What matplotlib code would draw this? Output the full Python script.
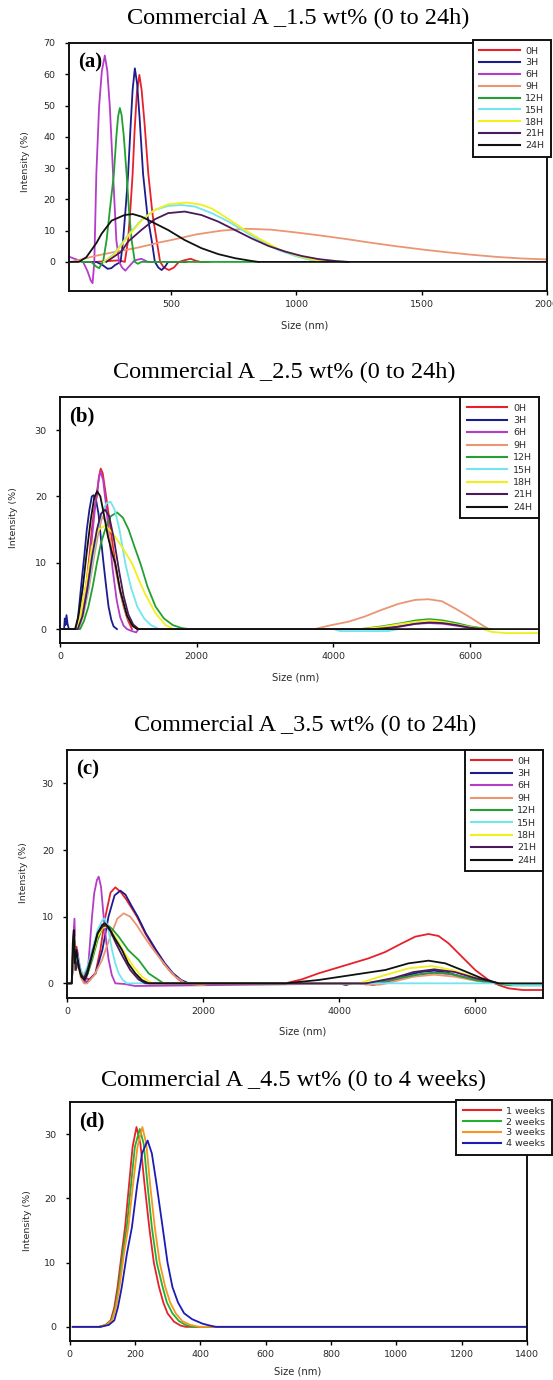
import matplotlib
matplotlib.use("Agg")
import matplotlib.pyplot as plt

# ---------------- panel (a): 1.5 wt% ----------------
a_0h_x = [150, 200, 250, 290, 314, 327, 337, 345, 353, 362, 372, 381, 392, 408, 425, 441, 455, 470, 490, 510, 530, 555, 577, 600, 617, 650]
a_0h_y = [0, 0, 0.3, 0.5, 0, 7, 18, 28, 42, 54, 59.8, 55, 45, 28, 15, 7, 0, -1.8, -2.6, -1.8, 0, 0.6, 1.0, 0.3, 0, 0]
a_3h_x = [150, 200, 225, 245, 260, 275, 297, 307, 318, 327, 336, 345, 354, 363, 373, 387, 404, 421, 434, 448, 461, 475, 487, 560]
a_3h_y = [0, 0, -1.0, -2.2, -2.0, -1.0, 0, 7, 18, 28, 42, 55, 61.9, 57, 46, 28, 15, 7, 0, -1.8, -2.6, -1.5, 0, 0]
a_6h_x = [90, 120, 147, 165, 178, 185, 192, 200, 211, 222, 234, 244, 254, 267, 280, 291, 303, 316, 330, 353, 380, 406, 450]
a_6h_y = [1.7, 0.8, 0, -3, -6, -6.8, 0, 28, 49.6, 61, 66, 61, 49.6, 28, 7, 0, -1.8, -2.8, -1.5, 0.5, 1.0, 0, 0]
a_9h_x = [100, 150, 200, 250, 300, 350, 400, 450, 500, 600, 700, 800, 900, 1000, 1100, 1200, 1300, 1400, 1500, 1600, 1700, 1800, 1900, 2000]
a_9h_y = [0, 1.0, 2.0, 2.8, 3.6, 4.3, 5.2, 6.2, 7.0, 8.8, 10.0, 10.6, 10.3, 9.4, 8.4, 7.3, 6.1, 5.0, 4.0, 3.1, 2.3, 1.6, 1.1, 0.8]
a_12h_x = [140, 180, 200, 211, 227, 241, 256, 270, 280, 287, 294, 301, 310, 321, 331, 341, 354, 366, 380, 850]
a_12h_y = [0, 0, -1.5, -2, 0, 7, 18, 28, 40, 46.5, 49.2, 47, 40, 28, 16, 7, 0, -0.6, 0, 0]
a_15h_x = [230, 270, 327, 380, 433, 487, 540, 594, 661, 728, 794, 861, 928, 995, 1061, 1115]
a_15h_y = [0, 2.5, 8.6, 13.4, 16.6, 17.9, 18.2, 17.7, 15.6, 12.9, 9.7, 6.5, 3.8, 1.9, 0.5, 0]
a_18h_x = [230, 270, 327, 380, 433, 487, 560, 620, 661, 728, 794, 861, 928, 995, 1061, 1128]
a_18h_y = [0, 2.2, 8.2, 13.2, 16.6, 18.4, 19.0, 18.3, 17.1, 13.7, 10.2, 7.0, 4.1, 2.2, 0.8, 0]
a_21h_x = [240, 300, 327, 380, 433, 487, 553, 620, 687, 754, 821, 888, 955, 1021, 1088, 1155, 1209]
a_21h_y = [0, 3.3, 6.5, 10.2, 13.6, 15.6, 16.1, 15.0, 12.9, 10.2, 7.5, 5.1, 3.3, 1.9, 0.9, 0.3, 0]
a_24h_x = [90, 130, 160, 200, 221, 261, 313, 346, 380, 420, 487, 553, 620, 687, 754, 821, 848, 2000]
a_24h_y = [0, 0, 1.5, 6.0, 9.0, 13.2, 15.0, 15.3, 14.5, 12.9, 10.2, 7.0, 4.4, 2.5, 1.2, 0.3, 0, 0]

# ---------------- panel (b): 2.5 wt% ----------------
b_0h_x = [0, 270, 330, 392, 430, 465, 500, 539, 570, 596, 625, 660, 710, 760, 808, 870, 931, 990, 1053]
b_0h_y = [0, 0, 3.4, 7.4, 11, 15, 18, 20, 23, 24.2, 23.5, 21, 17.4, 13.5, 9.9, 6.2, 3.4, 1.4, 0]
b_3h_x = [0, 60, 70, 80, 95, 110, 130, 245, 280, 318, 355, 392, 430, 465, 492, 530, 563, 600, 637, 675, 710, 750, 784, 833]
b_3h_y = [0, 0, 1.6, 0.6, 2.1, 0.8, 0, 0, 3.4, 7.4, 11, 15, 18, 20, 20.2, 19.3, 17.4, 13.5, 9.9, 6.4, 3.4, 1.4, 0.4, 0]
b_6h_x = [0, 250, 300, 360, 420, 480, 530, 570, 590, 630, 670, 720, 770, 830, 880, 930, 980, 1050, 1114, 1150, 4700, 5000, 5200, 5400, 5600, 5800, 6000, 6200]
b_6h_y = [0, 0, 1, 4, 9, 15, 20, 22.8, 23.8, 22.5, 19, 14, 9, 4.3, 1.8, 0.5, 0, -0.3, -0.5, 0, 0, 0.4, 0.8, 0.9, 0.8, 0.5, 0.2, 0]
b_9h_x = [0, 270, 340, 420, 500, 570, 620, 680, 750, 830, 910, 990, 1070, 1150, 3724, 3969, 4214, 4459, 4704, 4949, 5194, 5390, 5586, 5782, 5978, 6174, 6272]
b_9h_y = [0, 0, 2, 6, 11, 15, 17, 16, 12.5, 8, 4.2, 1.6, 0.4, 0, 0, 0.6, 1.1, 1.9, 2.9, 3.8, 4.4, 4.5, 4.2, 3.1, 1.9, 0.6, 0]
b_12h_x = [0, 294, 350, 416, 480, 539, 600, 661, 740, 833, 920, 1004, 1090, 1176, 1280, 1397, 1520, 1650, 1780, 1886, 4400, 4700, 5000, 5200, 5400, 5600, 5800, 6000, 6200, 6300]
b_12h_y = [0, 0, 1.2, 3.4, 6.5, 9.9, 13, 15, 17, 17.6, 16.8, 15, 12.4, 9.9, 6.4, 3.4, 1.6, 0.6, 0.15, 0, 0, 0.4, 0.9, 1.3, 1.5, 1.3, 0.9, 0.4, 0.1, 0]
b_15h_x = [0, 260, 330, 400, 470, 540, 610, 680, 740, 800, 870, 955, 1040, 1130, 1230, 1330, 1450, 4000, 4100, 4800, 4950]
b_15h_y = [0, 0, 2, 5.5, 10, 14.5, 17.5, 19, 19.2, 18, 15, 9.9, 6.2, 3.4, 1.6, 0.6, 0, 0, -0.3, -0.3, 0]
b_18h_x = [0, 250, 300, 392, 465, 563, 661, 760, 906, 1054, 1150, 1250, 1397, 1544, 1660, 4400, 4700, 5000, 5200, 5400, 5600, 5800, 6000, 6200, 6300, 6500, 7000]
b_18h_y = [0, 0, 2, 7.4, 12.4, 15, 15.6, 14.6, 12.4, 9.9, 7.5, 5.2, 2.4, 0.6, 0, 0, 0.3, 0.8, 1.1, 1.3, 1.1, 0.7, 0.3, 0, -0.4, -0.6, -0.6]
b_21h_x = [0, 260, 330, 400, 470, 540, 600, 660, 720, 790, 860, 930, 1000, 1070, 1150, 4600, 4900, 5200, 5400, 5600, 5800, 6000, 6200]
b_21h_y = [0, 0, 2, 6, 11, 15, 17.4, 18, 17, 13.5, 9, 5, 2.2, 0.7, 0, 0, 0.3, 0.8, 1.0, 0.9, 0.6, 0.2, 0]
b_24h_x = [0, 220, 270, 330, 390, 450, 500, 544, 590, 640, 700, 760, 808, 880, 980, 1060, 1127, 7000]
b_24h_y = [0, 0, 2, 6, 11.5, 16.5, 19.8, 20.8, 20, 17.4, 14, 11.5, 9.9, 5.8, 2.0, 0.5, 0, 0]

# ---------------- panel (c): 3.5 wt% ----------------
c_0h_x = [0, 70, 90, 105, 120, 140, 170, 210, 260, 330, 417, 490, 564, 640, 711, 790, 870, 950, 1029, 1150, 1299, 1420, 1544, 1650, 1740,
          3210, 3455, 3700, 3945, 4190, 4435, 4680, 4925, 5121, 5317, 5464, 5611, 5807, 6003, 6199, 6346, 6493, 6700, 7000]
c_0h_y = [0, 0, 5, 8.5, 3, 5.5, 3, 1.5, 0.8, 0.6, 1.5, 5, 10, 13.6, 14.4, 13.7, 12.6, 11.3, 10, 7.5, 5, 3, 1.5, 0.5, 0,
          0, 0.6, 1.5, 2.25, 3.0, 3.75, 4.7, 6.0, 7.0, 7.4, 7.1, 6.0, 4.0, 2.0, 0.5, -0.25, -0.75, -1.0, -1.0]
c_3h_x = [0, 70, 90, 105, 120, 150, 190, 230, 270, 330, 420, 520, 610, 700, 785, 860, 950, 1040, 1160, 1310, 1440, 1560, 1680, 1790,
          4000, 4100, 4200, 4400, 4500, 4600, 4800, 5000, 5200, 5400, 5600, 5800, 6000, 6200, 6346]
c_3h_y = [0, 0, 4, 6, 2, 4, 2, 0.5, 0, 0.5, 1.5, 5, 10, 13.2, 13.9, 13.3, 11.6, 10, 7.5, 5, 3, 1.5, 0.5, 0,
          0, -0.25, 0, 0, -0.25, 0, 0.5, 1.2, 1.7, 1.9, 1.6, 1.0, 0.5, 0.1, 0]
c_6h_x = [0, 70, 90, 110, 125, 150, 180, 220, 270, 300, 319, 345, 368, 400, 440, 466, 500, 539, 580, 613, 660, 711, 850, 1000,
          4500, 4800, 5100, 5400, 5700, 6000, 6300]
c_6h_y = [0, 0, 6, 9.7, 3, 5, 3, 1, 0.25, 1.5, 3.5, 7, 10, 13.5, 15.5, 16, 14.5, 10, 6, 3.5, 1.2, 0, -0.1, -0.4,
          0, 0.5, 1.2, 1.6, 1.3, 0.6, 0]
c_9h_x = [0, 70, 90, 110, 125, 160, 200, 250, 295, 400, 515, 637, 740, 833, 930, 1020, 1103, 1230, 1348, 1470, 1593, 1740, 1985, 2100,
          4300, 4400, 4600, 4700, 4900, 5100, 5400, 5700, 6000, 6346]
c_9h_y = [0, 0, 4, 7, 2, 3, 1, 0, 0, 1.2, 3.5, 7, 9.7, 10.5, 10, 8.8, 7.5, 5.6, 4, 2.4, 1, 0, -0.3, 0,
          0, -0.2, -0.2, 0, 0.5, 1.0, 1.3, 1.0, 0.4, 0]
c_12h_x = [0, 70, 90, 110, 130, 160, 200, 250, 300, 370, 450, 520, 590, 660, 760, 900, 1054, 1200, 1420,
           4400, 4700, 5000, 5200, 5400, 5600, 5800, 6000, 6300, 6500, 7000]
c_12h_y = [0, 0, 5, 6.5, 2, 3, 1.5, 1, 1.3, 3.5, 6.5, 8.3, 8.8, 8.2, 7, 5, 3.5, 1.5, 0,
           0, 0.4, 1.0, 1.4, 1.6, 1.5, 1.0, 0.5, 0, -0.3, -0.3]
c_15h_x = [0, 70, 90, 110, 125, 160, 200, 250, 300, 370, 450, 520, 554, 600, 662, 710, 760, 820, 882, 6400, 6600, 7000]
c_15h_y = [0, 0, 5, 7, 3, 4, 2, 1.3, 2.5, 5, 8, 9.5, 9.75, 8.5, 5, 3, 1.5, 0.5, 0, 0, -0.3, -0.3]
c_18h_x = [0, 70, 90, 110, 130, 160, 200, 250, 300, 370, 450, 520, 580, 650, 740, 850, 980, 1100, 1250,
           4300, 4680, 5023, 5366, 5660, 6003, 6346]
c_18h_y = [0, 0, 5, 6.5, 2, 3, 1.5, 1, 1.8, 4, 7, 8.3, 8.5, 7.8, 6.5, 4.5, 2.5, 1, 0,
           0, 1.25, 2.25, 2.6, 2.0, 0.9, 0]
c_21h_x = [0, 70, 90, 110, 130, 160, 200, 250, 300, 370, 450, 520, 570, 640, 720, 820, 930, 1050, 1150,
           4400, 4800, 5100, 5400, 5700, 6000, 6346]
c_21h_y = [0, 0, 4.5, 6.5, 2, 3.5, 1.5, 0.8, 2, 4.5, 7.5, 8.5, 8.7, 7.8, 6, 4, 2, 0.6, 0,
           0, 0.8, 1.7, 2.1, 1.7, 0.8, 0]
c_24h_x = [0, 70, 85, 100, 115, 140, 170, 210, 260, 300, 370, 450, 520, 560, 620, 700, 809, 900, 1005, 1100, 1201,
           3210, 3700, 4190, 4680, 5023, 5317, 5562, 5807, 6101, 6346, 7000]
c_24h_y = [0, 0, 6, 8, 3, 5, 2.5, 1, 0.5, 1.5, 4.2, 7.5, 8.8, 9.0, 8.3, 6.8, 5, 3, 1.5, 0.5, 0,
           0, 0.5, 1.25, 2.0, 3.0, 3.4, 3.0, 2.0, 0.75, 0, 0]

# ---------------- panel (d): 4.5 wt% ----------------
d_1w_x = [10, 90, 110, 126, 137, 147, 160, 170, 182, 193, 205, 217, 230, 244, 258, 274, 287, 300, 320, 340, 356, 1400]
d_1w_y = [0, 0, 0.3, 1.0, 3, 6.2, 11.5, 15.5, 22, 28, 31.1, 28.5, 22, 15.5, 10, 6.2, 3.8, 2.1, 0.8, 0.2, 0, 0]
d_2w_x = [10, 90, 112, 128, 140, 150, 163, 175, 188, 200, 215, 227, 239, 252, 267, 285, 298, 315, 335, 355, 377, 1400]
d_2w_y = [0, 0, 0.3, 1.0, 3, 6.2, 11.5, 15.5, 22, 28, 30.8, 28.5, 22, 15.5, 10, 6.2, 3.8, 2.1, 0.9, 0.3, 0, 0]
d_3w_x = [10, 92, 113, 130, 142, 153, 167, 180, 194, 208, 223, 235, 247, 261, 276, 293, 308, 325, 345, 370, 397, 1400]
d_3w_y = [0, 0, 0.3, 1.0, 3, 6.2, 11.5, 15.5, 22, 28, 31.1, 28.5, 22, 15.5, 10, 6.2, 3.8, 2.1, 0.9, 0.3, 0, 0]
d_4w_x = [10, 95, 120, 137, 148, 160, 176, 191, 207, 222, 239, 252, 267, 285, 300, 315, 332, 351, 375, 407, 430, 448, 1400]
d_4w_y = [0, 0, 0.3, 1.0, 3, 6.2, 11.5, 15.5, 22, 27, 29.0, 27, 22, 15.5, 10, 6.2, 3.8, 2.1, 1.2, 0.5, 0.2, 0, 0]

hour_labels = ["0H", "3H", "6H", "9H", "12H", "15H", "18H", "21H", "24H"]
hour_colors = ["#e8202a", "#1c1c8c", "#b43cc8", "#eb9572", "#22a032",
               "#6fe6f0", "#f2ef1a", "#4a1a5a", "#111111"]
week_labels = ["1 weeks", "2 weeks", "3 weeks", "4 weeks"]
week_colors = ["#e8202a", "#22b032", "#f7961e", "#1c1cb4"]

W, H = 553, 1380
SERIF = ["Liberation Serif", "DejaVu Serif"]
SANS = ["DejaVu Sans"]
TXT = "#2a2a2a"

fig = plt.figure(figsize=(W / 100, H / 100), dpi=100)


def make_axes(left, top, right, bottom):
    return fig.add_axes([left / W, 1 - bottom / H, (right - left) / W, (bottom - top) / H])


def style(ax, xlim, ylim, xticks, yticks, letter, title, tpos, ylab_pos, xlab_pos,
          leg_anchor, handlelen=4.3, lspace=0.36):
    ax.set_xlim(*xlim)
    ax.set_ylim(*ylim)
    ax.set_xticks(xticks)
    ax.set_yticks(yticks)
    for s in ax.spines.values():
        s.set_linewidth(1.4)
        s.set_color("#111111")
    ax.tick_params(direction="out", length=3, width=1, labelsize=6.8, labelcolor=TXT)
    ax.tick_params(axis="x", pad=3.5)
    ax.tick_params(axis="y", pad=6.5)
    for lab in ax.get_xticklabels() + ax.get_yticklabels():
        lab.set_family(SANS)
    ax.text(0.02, 0.96, letter, transform=ax.transAxes, ha="left", va="top",
            family=SERIF, fontweight="bold", fontsize=15)
    fig.text(tpos[0] / W, 1 - tpos[1] / H, title, ha="center", va="center",
             family=SERIF, fontsize=17.5)
    fig.text(ylab_pos[0] / W, 1 - ylab_pos[1] / H, "Intensity (%)", rotation=90,
             ha="center", va="center", family=SANS, fontsize=6.8, color=TXT)
    fig.text(xlab_pos[0] / W, 1 - xlab_pos[1] / H, "Size (nm)", ha="center",
             va="center", family=SANS, fontsize=7.2, color=TXT)
    leg = ax.legend(loc="upper right", bbox_to_anchor=leg_anchor, frameon=True,
                    fancybox=False, edgecolor="#111111", framealpha=1,
                    prop={"family": SANS, "size": 6.8}, handlelength=handlelen,
                    labelspacing=lspace, borderpad=0.7, handletextpad=0.6,
                    borderaxespad=0)
    leg.get_frame().set_linewidth(1.4)
    for t in leg.get_texts():
        t.set_color(TXT)
    for h in leg.get_lines():
        h.set_linewidth(1.5)


# (a)
ax = make_axes(68.8, 43, 546.7, 291)
a_series = [(a_0h_x, a_0h_y), (a_3h_x, a_3h_y), (a_6h_x, a_6h_y), (a_9h_x, a_9h_y),
            (a_12h_x, a_12h_y), (a_15h_x, a_15h_y), (a_18h_x, a_18h_y),
            (a_21h_x, a_21h_y), (a_24h_x, a_24h_y)]
for (xs, ys), lab, col in zip(a_series, hour_labels, hour_colors):
    ax.plot(xs, ys, color=col, lw=1.3, label=lab)
style(ax, (90, 2000), (-9.3, 70), [500, 1000, 1500, 2000], range(0, 71, 10),
      "(a)", "Commercial A _1.5 wt% (0 to 24h)", (298, 18), (26, 162), (305, 325),
      (1.009, 1.012), lspace=0.3)

# (b)
ax = make_axes(60, 397, 538.6, 643)
b_series = [(b_0h_x, b_0h_y), (b_3h_x, b_3h_y), (b_6h_x, b_6h_y), (b_9h_x, b_9h_y),
            (b_12h_x, b_12h_y), (b_15h_x, b_15h_y), (b_18h_x, b_18h_y),
            (b_21h_x, b_21h_y), (b_24h_x, b_24h_y)]
for (xs, ys), lab, col in zip(b_series, hour_labels, hour_colors):
    ax.plot(xs, ys, color=col, lw=1.3, label=lab)
style(ax, (0, 7000), (-2.1, 35), [0, 2000, 4000, 6000], [0, 10, 20, 30],
      "(b)", "Commercial A _2.5 wt% (0 to 24h)", (284, 372), (14, 518), (296, 677), (1.0, 1.0))

# (c)
ax = make_axes(67, 750, 543, 998)
c_series = [(c_0h_x, c_0h_y), (c_3h_x, c_3h_y), (c_6h_x, c_6h_y), (c_9h_x, c_9h_y),
            (c_12h_x, c_12h_y), (c_15h_x, c_15h_y), (c_18h_x, c_18h_y),
            (c_21h_x, c_21h_y), (c_24h_x, c_24h_y)]
for (xs, ys), lab, col in zip(c_series, hour_labels, hour_colors):
    ax.plot(xs, ys, color=col, lw=1.3, label=lab)
style(ax, (0, 7000), (-2.2, 35), [0, 2000, 4000, 6000], [0, 10, 20, 30],
      "(c)", "Commercial A _3.5 wt% (0 to 24h)", (305, 725), (23, 873), (303, 1032), (1.0, 1.0))

# (d)
ax = make_axes(69.5, 1102, 527, 1341)
d_series = [(d_1w_x, d_1w_y), (d_2w_x, d_2w_y), (d_3w_x, d_3w_y), (d_4w_x, d_4w_y)]
for (xs, ys), lab, col in zip(d_series, week_labels, week_colors):
    ax.plot(xs, ys, color=col, lw=1.3, label=lab)
style(ax, (0, 1400), (-2.2, 35), range(0, 1401, 200), [0, 10, 20, 30],
      "(d)", "Commercial A _4.5 wt% (0 to 4 weeks)", (294, 1080), (28, 1221), (298, 1372),
      (1.055, 1.008), handlelen=4.0, lspace=0.2)

fig.savefig("out.png", dpi=100)
